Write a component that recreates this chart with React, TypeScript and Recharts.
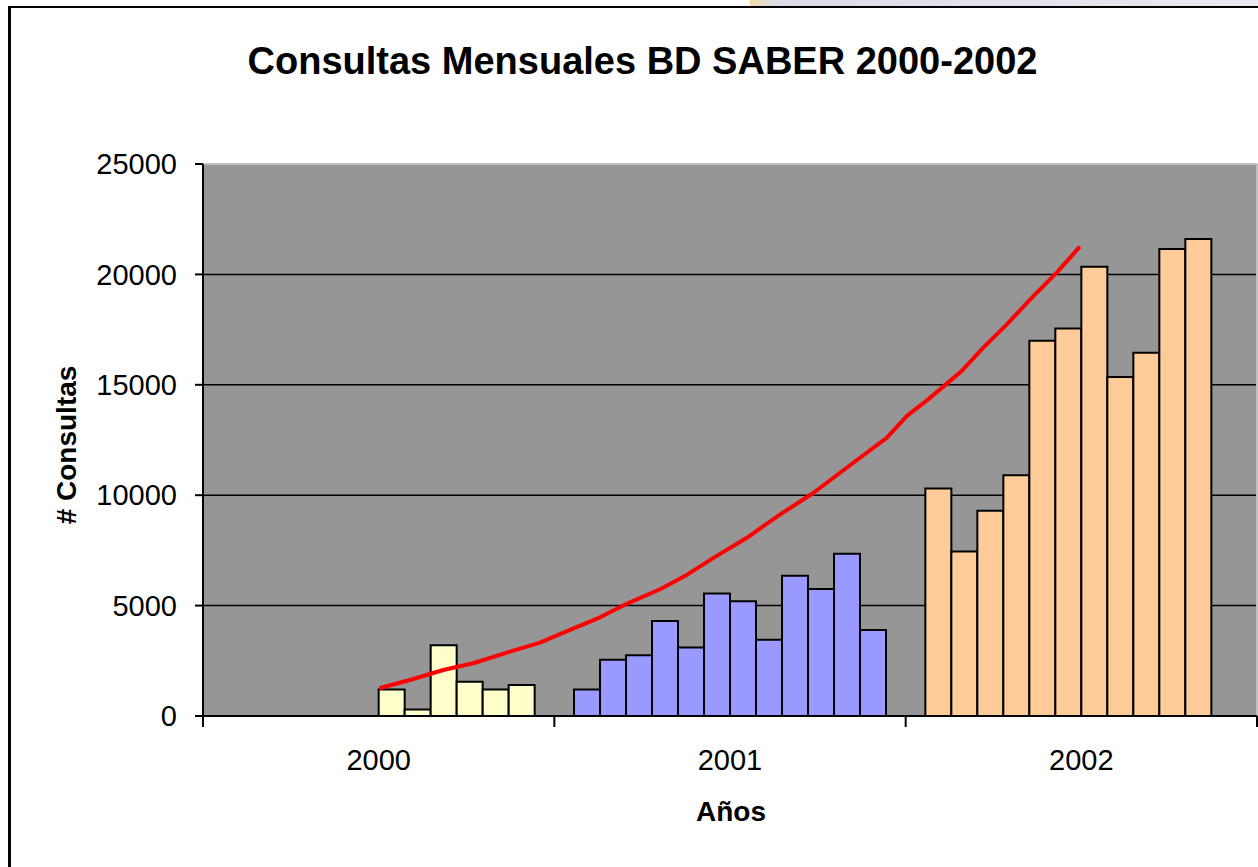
import React from "react";
import {
  ComposedChart,
  Bar,
  Line,
  XAxis,
  YAxis,
  CartesianGrid,
  Cell,
  ReferenceLine,
} from "recharts";

const FONT = "Arial, 'Liberation Sans', sans-serif";

const years = ["2000", "2001", "2002"];
const months = ["Ene", "Feb", "Mar", "Abr", "May", "Jun", "Jul", "Ago", "Sep", "Oct", "Nov", "Dic"];
const consultas2000 = [null, null, null, null, null, null, 1200, 300, 3200, 1550, 1200, 1400];
const consultas2001 = [1200, 2550, 2750, 4300, 3100, 5550, 5200, 3450, 6350, 5750, 7350, 3900];
const consultas2002 = [10300, 7450, 9300, 10900, 17000, 17550, 20350, 15350, 16450, 21150, 21600, null];
const yearColors = ["#FFFFCC", "#9999FF", "#FFCC99"];
const yTicks = [0, 5000, 10000, 15000, 20000, 25000];

// red trend line: position along the year axis (0 = left edge, 3 = right edge) and value
const trendPos = [
  0.502, 0.589, 0.684, 0.769, 0.874, 0.959, 1.045, 1.13, 1.206, 1.301, 1.377, 1.452, 1.547,
  1.642, 1.737, 1.851, 1.946, 2.003, 2.064, 2.159, 2.221, 2.288, 2.373, 2.43, 2.496,
];
const trendVal = [
  1255, 1630, 2085, 2390, 2915, 3320, 3900, 4470, 5080, 5740, 6390, 7150, 8060, 9120, 10100,
  11470, 12600, 13580, 14340, 15620, 16680, 17740, 19170, 20080, 21260,
];
const yearAxisTicks = [0, 0.5, 1, 1.5, 2, 2.5, 3];

const seriesByYear = [consultas2000, consultas2001, consultas2002];
const data = years.map((year, i) => {
  const row: any = { year };
  months.forEach((m, j) => {
    row[m] = seriesByYear[i][j];
  });
  return row;
});
const trendData = trendPos.map((t, i) => ({ t, value: trendVal[i] }));

// boundary marks on whole numbers, year labels in the middle
const YearTick = (props: any) => {
  const { x, y, payload } = props;
  const v = payload.value;
  if (Number.isInteger(v)) {
    return <line x1={x} x2={x} y1={y - 11} y2={y} stroke="#000" strokeWidth={2} />;
  }
  return (
    <text x={x} y={y + 43} textAnchor="middle" fontSize={29} fontFamily={FONT} fill="#000">
      {years[Math.floor(v)]}
    </text>
  );
};

const App = () => {
  return (
    <div
      style={{
        position: "absolute",
        left: 0,
        top: 0,
        width: 1258,
        height: 867,
        overflow: "hidden",
        background: "#fff",
      }}
    >
      <div
        style={{
          position: "absolute",
          left: 750,
          top: 0,
          width: 508,
          height: 6,
          background: "linear-gradient(to right, #f6d9a4 0px, #dcdce6 24px, #e9e9ef 100%)",
        }}
      />
      <div
        style={{
          position: "absolute",
          left: 8,
          top: 6,
          width: 1400,
          height: 1000,
          borderLeft: "3px solid #000",
          borderTop: "2px solid #000",
        }}
      />
      <div style={{ position: "absolute", left: 0, top: 0 }}>
        <ComposedChart
          width={1258}
          height={867}
          data={data}
          margin={{ top: 164, right: 1, left: 0, bottom: 0 }}
          barGap={0}
          barCategoryGap="5.6%"
        >
          <CartesianGrid
            xAxisId="t"
            vertical={false}
            fill="#969696"
            fillOpacity={1}
            stroke="#000"
            strokeWidth={1.5}
          />
          <XAxis xAxisId="cat" dataKey="year" hide height={0} />
          <XAxis
            xAxisId="t"
            type="number"
            dataKey="t"
            domain={[0, 3]}
            ticks={yearAxisTicks}
            interval={0}
            allowDataOverflow
            height={151}
            tickSize={11}
            tickMargin={0}
            tickLine={{ stroke: "none" }}
            axisLine={{ stroke: "#000", strokeWidth: 2 }}
            tick={<YearTick />}
          />
          <YAxis
            domain={[0, 25000]}
            ticks={yTicks}
            interval={0}
            allowDataOverflow
            width={203}
            tickSize={8}
            tickMargin={18}
            axisLine={{ stroke: "#000", strokeWidth: 2 }}
            tickLine={{ stroke: "#000", strokeWidth: 2 }}
            tick={{ fontSize: 29, fill: "#000", fontFamily: FONT }}
          />
          <ReferenceLine xAxisId="t" y={25000} stroke="#c0c0c0" strokeWidth={2} />
          <ReferenceLine xAxisId="t" x={3} stroke="#c0c0c0" strokeWidth={2} />
          {months.map((m) => (
            <Bar
              key={m}
              xAxisId="cat"
              dataKey={m}
              fill="#FFFFCC"
              stroke="#000"
              strokeWidth={2}
              isAnimationActive={false}
            >
              {data.map((d, i) => (
                <Cell key={d.year} fill={yearColors[i]} />
              ))}
            </Bar>
          ))}
          <Line
            xAxisId="t"
            data={trendData}
            dataKey="value"
            type="linear"
            stroke="#FF0000"
            strokeWidth={4}
            strokeLinejoin="round"
            dot={false}
            isAnimationActive={false}
          />
        </ComposedChart>
      </div>
      <svg
        width={1258}
        height={867}
        style={{ position: "absolute", left: 0, top: 0, pointerEvents: "none" }}
      >
        <text x={642.5} y={74} textAnchor="middle" fontSize={38} fontWeight="bold" fontFamily={FONT} fill="#000">
          Consultas Mensuales BD SABER 2000-2002
        </text>
        <text
          transform="translate(76,445) rotate(-90)"
          textAnchor="middle"
          fontSize={28}
          fontWeight="bold"
          fontFamily={FONT}
          fill="#000"
        >
          # Consultas
        </text>
        <text x={731} y={821} textAnchor="middle" fontSize={28} fontWeight="bold" fontFamily={FONT} fill="#000">
          Años
        </text>
      </svg>
    </div>
  );
};

export default App;
